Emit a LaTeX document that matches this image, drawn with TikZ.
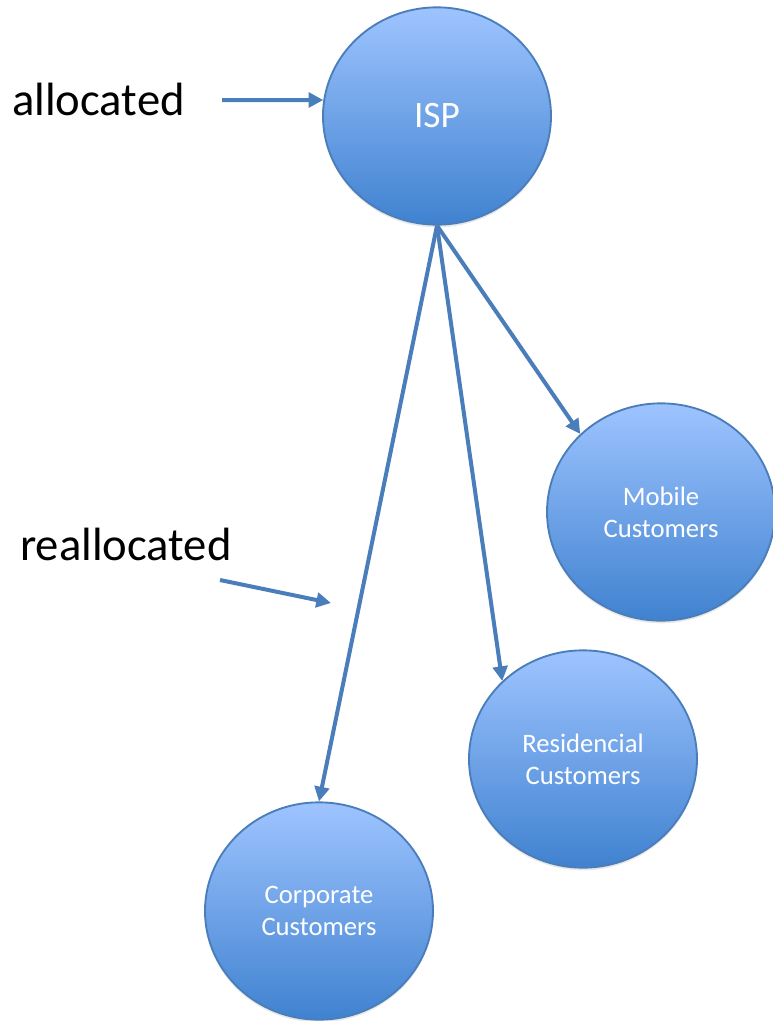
\documentclass[tikz,border=0pt]{standalone}
\usepackage{fontspec}
\setmainfont{Carlito}
\usetikzlibrary{shapes.geometric,arrows.meta,shadows}
\definecolor{edgeblue}{RGB}{74,126,187}
\definecolor{topblue}{RGB}{158,196,255}
\definecolor{botblue}{RGB}{64,130,208}
\tikzstyle{bub}=[ellipse,draw=edgeblue,line width=1.4pt,top color=topblue,bottom color=botblue,minimum width=171pt,minimum height=163pt,inner sep=0pt,text=white,align=center,font=\fontsize{20}{24}\selectfont,drop shadow={opacity=0.18,shadow xshift=0pt,shadow yshift=-2pt}]
\tikzstyle{arr}=[draw=edgeblue,line width=3pt,-{Triangle[length=11pt,width=11pt]}]
\tikzstyle{lbl}=[font=\fontsize{35}{42}\selectfont,anchor=base west,inner sep=0pt]

\begin{document}
\begin{tikzpicture}[x=0.75pt,y=-0.75pt]
\useasboundingbox (0,0) rectangle (773,1021);

\node (isp) at (437,116) [bub,font=\fontsize{28}{34}\selectfont] {ISP};
\node (mob) at (661,512) [bub] {Mobile\\Customers};
\node (res) at (583,759) [bub] {Residencial\\Customers};
\node (corp) at (319,911) [bub] {Corporate\\Customers};

\node (alloc) at (12,115) [lbl] {allocated};
\node (realloc) at (20,560) [lbl] {reallocated};

\coordinate (allocfrom) at (222,100);
\coordinate (reallocfrom) at (220,580);
\coordinate (realloctip) at (331,603);

\draw[arr] (allocfrom) -- (isp.172);
\draw[arr] (reallocfrom) -- (realloctip);

\draw[arr] (isp.south) -- (mob.136);
\draw[arr] (isp.south) -- (res.136);
\draw[arr] (isp.south) -- (corp.north);

\end{tikzpicture}
\end{document}
